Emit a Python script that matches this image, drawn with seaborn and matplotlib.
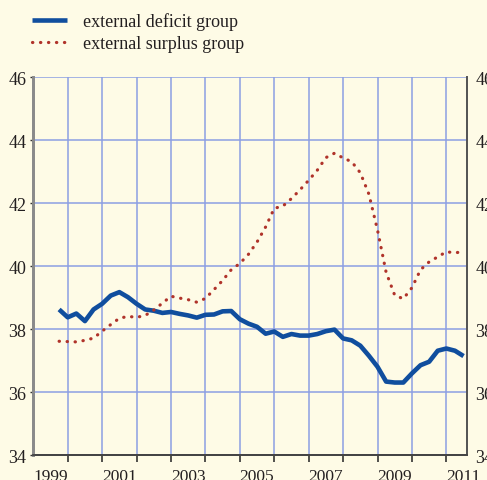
import matplotlib
matplotlib.use('Agg')
import numpy as np
import pandas as pd
import matplotlib.pyplot as plt
import seaborn as sns

# quarterly data, 1999Q4 .. 2011Q3
quarters = pd.period_range('1999Q4', '2011Q3', freq='Q')
deficit = [38.63, 38.38, 38.50, 38.26, 38.63, 38.81, 39.07, 39.18, 39.02, 38.81,
           38.63, 38.59, 38.52, 38.55, 38.49, 38.44, 38.37, 38.46, 38.47, 38.57,
           38.58, 38.32, 38.18, 38.08, 37.86, 37.93, 37.76, 37.85, 37.80, 37.80,
           37.85, 37.94, 37.99, 37.71, 37.65, 37.48, 37.16, 36.81, 36.34, 36.31,
           36.31, 36.60, 36.86, 36.97, 37.32, 37.39, 37.32, 37.15]
surplus = [37.62, 37.61, 37.60, 37.65, 37.72, 37.94, 38.15, 38.35, 38.41, 38.38,
           38.44, 38.61, 38.83, 39.05, 38.99, 38.94, 38.86, 38.98, 39.26, 39.55,
           39.89, 40.09, 40.38, 40.77, 41.25, 41.84, 41.91, 42.15, 42.43, 42.73,
           43.05, 43.45, 43.59, 43.44, 43.32, 42.97, 42.29, 41.15, 39.81, 39.08,
           38.97, 39.32, 39.89, 40.14, 40.30, 40.46, 40.43, 40.46]
year_labels = ['1999', '2001', '2003', '2005', '2007', '2009', '2011']
year_bounds = list(range(2000, 2012))
y_ticks = [34, 36, 38, 40, 42, 44, 46]

bg = '#FEFBE6'
text_color = '#231F20'
sns.set_style('white', rc={'axes.facecolor': bg, 'figure.facecolor': bg})
plt.rcParams['font.family'] = ['Liberation Serif', 'DejaVu Serif']

df = pd.DataFrame({'time': quarters.year + (quarters.quarter - 1) / 4,
                   'deficit': deficit, 'surplus': surplus})

fig = plt.figure(figsize=(4.87, 4.81), dpi=100)
ax = fig.add_axes([33.3 / 487, 1 - 456.3 / 481, (467 - 33.3) / 487, (456.3 - 78.3) / 481])

sns.lineplot(data=df, x='time', y='deficit', ax=ax, color='#104E9E', linewidth=3.3,
             solid_capstyle='butt', label='external deficit group')
sns.lineplot(data=df, x='time', y='surplus', ax=ax, color='#B0332A', linewidth=2.3,
             linestyle=(0, (0.1, 2.4)), dash_capstyle='round', label='external surplus group')

ax.set_xlim(1999, 2011.6)
ax.set_ylim(34, 46)
ax.set_xlabel('')
ax.set_ylabel('')

ax.set_xticks(year_bounds)
ax.set_xticklabels([])
ax.set_xticks([int(y) + 0.5 for y in year_labels], labels=year_labels, minor=True)
ax.tick_params(axis='x', which='major', direction='out', length=5, width=1.2, color='#333333', bottom=True)
ax.tick_params(axis='x', which='minor', length=0, pad=9, labelsize=12.5, labelcolor=text_color)

ax.set_yticks(y_ticks)
ax.tick_params(axis='y', left=True, length=2, width=1, color='#333333', pad=3,
               labelsize=13, labelcolor=text_color)

ax.grid(True, which='major', color='#8C9FE3', linewidth=1.1)
ax.set_axisbelow(True)

ax2 = ax.twinx()
ax2.set_ylim(34, 46)
ax2.set_yticks(y_ticks)
ax2.tick_params(axis='y', right=True, length=0, pad=6, labelsize=13, labelcolor=text_color)
ax2.grid(False)

for a in (ax, ax2):
    a.spines['top'].set_visible(False)
    a.spines['left'].set_color('#8A8A8A')
    a.spines['left'].set_linewidth(2)
    a.spines['right'].set_color('#555555')
    a.spines['right'].set_linewidth(1.3)
    a.spines['bottom'].set_color('#444444')
    a.spines['bottom'].set_linewidth(1.3)

handles, labels = ax.get_legend_handles_labels()
ax.get_legend().remove()
fig.legend(handles, labels, loc='upper left', bbox_to_anchor=(32 / 487, 1 - 13 / 481),
           frameon=False, fontsize=13, handlelength=1.95, handletextpad=0.85,
           labelspacing=0.3, borderpad=0, borderaxespad=0, labelcolor=text_color)

fig.savefig('out.png', dpi=100, facecolor=bg)
